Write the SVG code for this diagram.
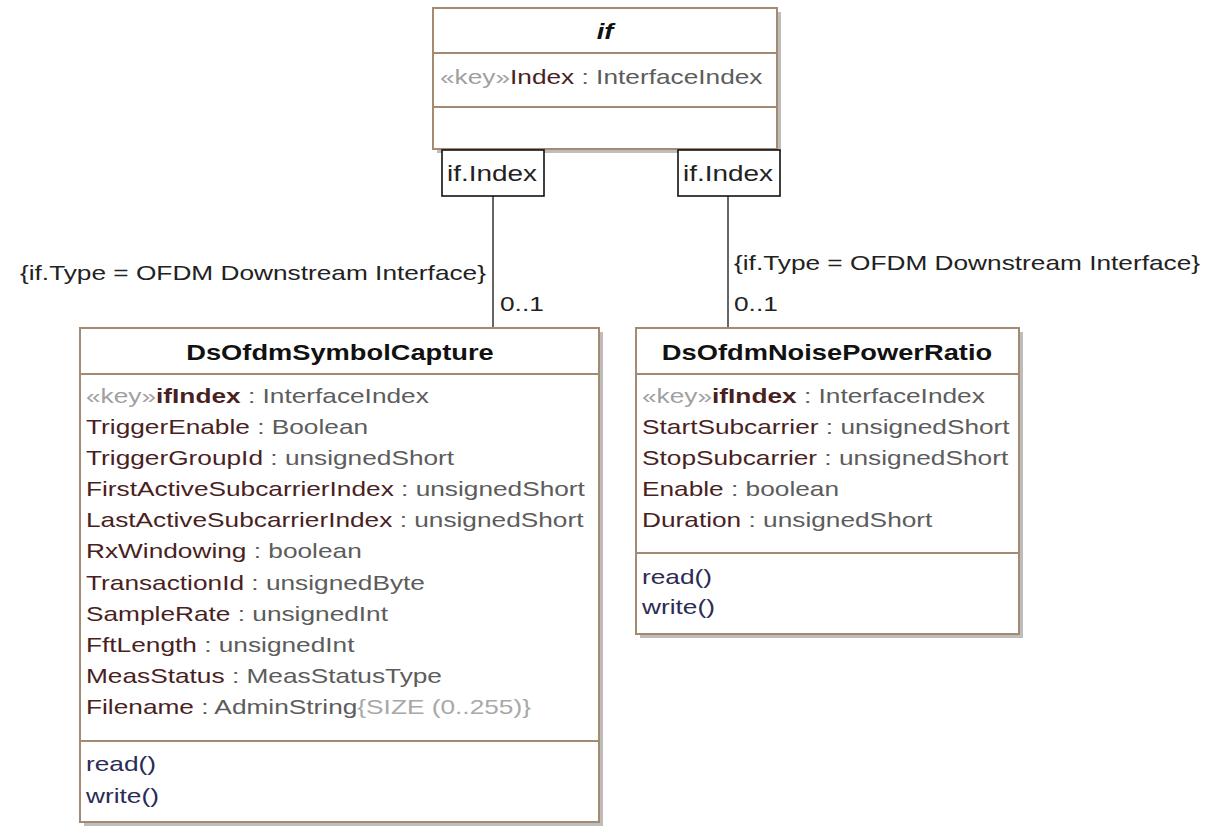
<svg xmlns="http://www.w3.org/2000/svg" width="1214" height="827" viewBox="0 0 1214 827">
<style>
text{font-family:"Liberation Sans",Arial,sans-serif;font-size:21px;}
.box{fill:#ffffff;stroke:#a48a70;stroke-width:2;}
.shadow{fill:#bdbdbd;}
.div{stroke:#a48a70;stroke-width:2;}
.title{font-weight:bold;fill:#111;text-anchor:middle;font-size:22px;}
.it{font-style:italic;}
.key{fill:#a0a0a0;}
.nm{fill:#4a1f1f;}
.ty{fill:#5c5c5c;}
.lt{fill:#a8a8a8;}
.op{fill:#2b2b55;}
.q{fill:#ffffff;stroke:#111;stroke-width:1.6;}
.qt{fill:#222;font-size:22px;}
.lbl{fill:#222;}
.conn{stroke:#333;stroke-width:1.5;fill:none;}
</style>
<rect width="1214" height="827" fill="#ffffff"/>

<g id="connectors">
<line class="conn" x1="493" y1="196" x2="493" y2="328"/>
<line class="conn" x1="728" y1="196" x2="728" y2="328"/>
<g transform="translate(486 0) scale(1.25 1)"><text class="lbl" x="0" y="280" text-anchor="end">{if.Type = OFDM Downstream Interface}</text></g>
<g transform="translate(500 0) scale(1.25 1)"><text class="lbl" x="0" y="311">0..1</text></g>
<g transform="translate(734 0) scale(1.25 1)"><text class="lbl" x="0" y="270">{if.Type = OFDM Downstream Interface}</text></g>
<g transform="translate(734 0) scale(1.25 1)"><text class="lbl" x="0" y="311">0..1</text></g>
</g>

<g id="node-if">
<rect class="shadow" x="437" y="12" width="344" height="141"/>
<rect class="box" x="433" y="8" width="344" height="141"/>
<line class="div" x1="433" y1="53" x2="777" y2="53"/>
<line class="div" x1="433" y1="107" x2="777" y2="107"/>
<g transform="translate(605 0) scale(1.24 1)"><text class="title it" x="0" y="39">if</text></g>
<g transform="translate(440 0) scale(1.25 1)"><text x="0" y="84"><tspan class="key">«key»</tspan><tspan class="nm">Index</tspan><tspan class="ty"> : InterfaceIndex</tspan></text></g>
</g>

<g id="qualifier-left">
<rect class="q" x="442" y="150" width="102" height="46"/>
<g transform="translate(447 0) scale(1.27 1)"><text class="qt" x="0" y="181">if.Index</text></g>
</g>
<g id="qualifier-right">
<rect class="q" x="678" y="150" width="102" height="46"/>
<g transform="translate(683 0) scale(1.27 1)"><text class="qt" x="0" y="181">if.Index</text></g>
</g>

<g id="node-DsOfdmSymbolCapture">
<rect class="shadow" x="84" y="332" width="519" height="494"/>
<rect class="box" x="80" y="328" width="519" height="494"/>
<line class="div" x1="80" y1="374" x2="599" y2="374"/>
<line class="div" x1="80" y1="741" x2="599" y2="741"/>
<g transform="translate(340 0) scale(1.24 1)"><text class="title" x="0" y="360">DsOfdmSymbolCapture</text></g>
<g transform="translate(86 0) scale(1.25 1)">
<text x="0" y="403"><tspan class="key">«key»</tspan><tspan class="nm" font-weight="bold">ifIndex</tspan><tspan class="ty"> : InterfaceIndex</tspan></text>
<text x="0" y="434.1"><tspan class="nm">TriggerEnable</tspan><tspan class="ty"> : Boolean</tspan></text>
<text x="0" y="465.2"><tspan class="nm">TriggerGroupId</tspan><tspan class="ty"> : unsignedShort</tspan></text>
<text x="0" y="496.3"><tspan class="nm">FirstActiveSubcarrierIndex</tspan><tspan class="ty"> : unsignedShort</tspan></text>
<text x="0" y="527.4"><tspan class="nm">LastActiveSubcarrierIndex</tspan><tspan class="ty"> : unsignedShort</tspan></text>
<text x="0" y="558.5"><tspan class="nm">RxWindowing</tspan><tspan class="ty"> : boolean</tspan></text>
<text x="0" y="589.6"><tspan class="nm">TransactionId</tspan><tspan class="ty"> : unsignedByte</tspan></text>
<text x="0" y="620.7"><tspan class="nm">SampleRate</tspan><tspan class="ty"> : unsignedInt</tspan></text>
<text x="0" y="651.8"><tspan class="nm">FftLength</tspan><tspan class="ty"> : unsignedInt</tspan></text>
<text x="0" y="682.9"><tspan class="nm">MeasStatus</tspan><tspan class="ty"> : MeasStatusType</tspan></text>
<text x="0" y="714"><tspan class="nm">Filename</tspan><tspan class="ty"> : AdminString</tspan><tspan class="lt">{SIZE (0..255)}</tspan></text>
<text class="op" x="0" y="771">read()</text>
<text class="op" x="0" y="803">write()</text>
</g>
</g>

<g id="node-DsOfdmNoisePowerRatio">
<rect class="shadow" x="640" y="332" width="383" height="306"/>
<rect class="box" x="636" y="328" width="383" height="306"/>
<line class="div" x1="636" y1="374" x2="1019" y2="374"/>
<line class="div" x1="636" y1="553" x2="1019" y2="553"/>
<g transform="translate(827 0) scale(1.24 1)"><text class="title" x="0" y="360">DsOfdmNoisePowerRatio</text></g>
<g transform="translate(642 0) scale(1.25 1)">
<text x="0" y="403"><tspan class="key">«key»</tspan><tspan class="nm" font-weight="bold">ifIndex</tspan><tspan class="ty"> : InterfaceIndex</tspan></text>
<text x="0" y="434.1"><tspan class="nm">StartSubcarrier</tspan><tspan class="ty"> : unsignedShort</tspan></text>
<text x="0" y="465.2"><tspan class="nm">StopSubcarrier</tspan><tspan class="ty"> : unsignedShort</tspan></text>
<text x="0" y="496.3"><tspan class="nm">Enable</tspan><tspan class="ty"> : boolean</tspan></text>
<text x="0" y="527.4"><tspan class="nm">Duration</tspan><tspan class="ty"> : unsignedShort</tspan></text>
<text class="op" x="0" y="584">read()</text>
<text class="op" x="0" y="614">write()</text>
</g>
</g>
</svg>
